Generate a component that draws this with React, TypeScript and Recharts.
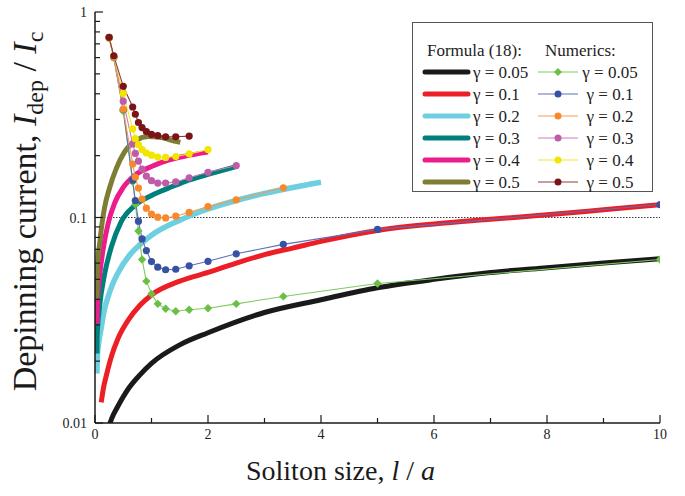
import React from "react";
import { LineChart, Line, XAxis, YAxis, ReferenceLine, Legend } from "recharts";

// ---- Formula (18) curves ----
const fX005 = [0.22, 0.3, 0.4, 0.6, 0.8, 1.0, 1.5, 2.0, 3.0, 4.0, 5.0, 6.0, 7.0, 8.0, 9.0, 10];
const fY005 = [0.0091, 0.0106, 0.012, 0.0148, 0.0172, 0.0195, 0.024, 0.0275, 0.0345, 0.0398, 0.0455, 0.05, 0.054, 0.057, 0.06, 0.063];
const fX01 = [0.11, 0.15, 0.2, 0.3, 0.4, 0.6, 0.8, 1.0, 1.5, 2.0, 2.5, 3.0, 3.5, 4.0, 5.0, 6.0, 7.0, 8.0, 9.0, 10];
const fY01 = [0.0126, 0.0148, 0.017, 0.0215, 0.0255, 0.032, 0.0375, 0.042, 0.049, 0.054, 0.06, 0.066, 0.071, 0.0765, 0.0865, 0.093, 0.098, 0.103, 0.109, 0.1155];
const fX02 = [0.035, 0.04, 0.07, 0.11, 0.16, 0.23, 0.32, 0.41, 0.6, 0.8, 1.0, 1.5, 2.0, 2.5, 3.0, 3.5, 4.0];
const fY02 = [0.0174, 0.0209, 0.025, 0.029, 0.035, 0.041, 0.048, 0.054, 0.065, 0.074, 0.082, 0.097, 0.11, 0.121, 0.131, 0.14, 0.1485];
const fX03 = [0.035, 0.037, 0.08, 0.17, 0.29, 0.46, 0.7, 1.0, 1.3, 1.6, 2.0, 2.5];
const fY03 = [0.0218, 0.0262, 0.0366, 0.053, 0.072, 0.095, 0.114, 0.128, 0.139, 0.15, 0.162, 0.177];
const fX04 = [0.035, 0.038, 0.08, 0.14, 0.23, 0.35, 0.5, 0.7, 1.0, 1.3, 1.6, 2.0];
const fY04 = [0.0304, 0.0366, 0.0513, 0.069, 0.093, 0.118, 0.14, 0.16, 0.177, 0.19, 0.199, 0.208];
const fX05 = [0.035, 0.04, 0.05, 0.082, 0.123, 0.17, 0.26, 0.376, 0.52, 0.735, 0.94, 1.15, 1.32, 1.51];
const fY05 = [0.04, 0.055, 0.062, 0.0745, 0.093, 0.112, 0.14, 0.173, 0.208, 0.238, 0.248, 0.246, 0.239, 0.232];

// ---- Numerics (points at 1/a for a = 4, 3, 2, 1.5 ... 0.1) ----
const numX = [0.25, 0.333, 0.5, 0.667, 0.714, 0.769, 0.833, 0.909, 1.0, 1.111, 1.25, 1.429, 1.667, 2.0, 2.5, 3.333, 5, 10];
const nY005 = [0.75, 0.6, 0.33, 0.149, 0.116, 0.086, 0.0625, 0.049, 0.0425, 0.038, 0.036, 0.035, 0.0356, 0.0362, 0.038, 0.0413, 0.0477, 0.0625];
const nY01 = [0.75, 0.6, 0.335, 0.152, 0.121, 0.096, 0.0787, 0.069, 0.061, 0.0573, 0.0557, 0.056, 0.0582, 0.0612, 0.0666, 0.074, 0.0875, 0.1156];
const nY02 = [0.75, 0.6, 0.336, 0.182, 0.157, 0.139, 0.123, 0.111, 0.104, 0.1004, 0.0995, 0.1015, 0.106, 0.113, 0.122, 0.1395];
const nY03 = [0.75, 0.605, 0.368, 0.228, 0.205, 0.188, 0.172, 0.159, 0.151, 0.147, 0.147, 0.149, 0.156, 0.166, 0.179];
const nY04 = [0.75, 0.607, 0.402, 0.27, 0.242, 0.226, 0.214, 0.206, 0.201, 0.197, 0.196, 0.198, 0.204, 0.214];
const nY05 = [0.753, 0.612, 0.435, 0.345, 0.318, 0.29, 0.274, 0.262, 0.254, 0.25, 0.247, 0.247, 0.249];

const gammaLabels = ["0.05", "0.1", "0.2", "0.3", "0.4", "0.5"];
const formulaColors = ["#1a1a1a", "#ec1f27", "#6dcfe0", "#00807b", "#ec1c8c", "#7e7d34"];
const numericColors = ["#6abf45", "#3752a3", "#f7892c", "#bf5ca9", "#f2e600", "#7a1416"];
const numericLineColors = ["#7fcb5c", "#5a70b8", "#f89a4c", "#cc7cbb", "#f2e830", "#8e3a3c"];

const xTicks = [0, 1, 2, 3, 4, 5, 6, 7, 8, 9, 10];
const yTicks = [
  0.01, 0.02, 0.03, 0.04, 0.05, 0.06, 0.07, 0.08, 0.09,
  0.1, 0.2, 0.3, 0.4, 0.5, 0.6, 0.7, 0.8, 0.9, 1,
];
const yMajor = [0.01, 0.1, 1];

type Pt = { x: number; y: number };
const zip = (xs: number[], ys: number[]): Pt[] => ys.map((y, i) => ({ x: xs[i], y }));

const formulaData = [
  zip(fX005, fY005), zip(fX01, fY01), zip(fX02, fY02),
  zip(fX03, fY03), zip(fX04, fY04), zip(fX05, fY05),
];
const numericData = [nY005, nY01, nY02, nY03, nY04, nY05].map((ys) => zip(numX, ys));

const FONT = '"Liberation Serif", "Times New Roman", serif';
const AXIS = "#1a1a1a";
const serif = { fontFamily: FONT };
const isMajorY = (v: number) => yMajor.some((m) => Math.abs(m - v) < 1e-9);

function BottomTick(p: any) {
  const { x, y, payload } = p;
  const major = payload.value % 2 === 0;
  return (
    <g>
      <line x1={x} x2={x} y1={y} y2={y - (major ? 8 : 5)} stroke={AXIS} strokeWidth={1.2} />
      {major && (
        <text x={x} y={y + 16} textAnchor="middle" style={serif} fontSize={14} fill="#222">
          {payload.value}
        </text>
      )}
    </g>
  );
}

function TopTick(p: any) {
  const { x, y, payload } = p;
  const major = payload.value % 2 === 0;
  return <line x1={x} x2={x} y1={y} y2={y + (major ? 8 : 4)} stroke={AXIS} strokeWidth={1.2} />;
}

function LeftTick(p: any) {
  const { x, y, payload } = p;
  const major = isMajorY(payload.value);
  return (
    <g>
      <line x1={x} x2={x + (major ? 8 : 5)} y1={y} y2={y} stroke={AXIS} strokeWidth={1.2} />
      {major && (
        <text x={x - 8} y={y + 5} textAnchor="end" style={serif} fontSize={14} fill="#222">
          {payload.value}
        </text>
      )}
    </g>
  );
}

function RightTick(p: any) {
  const { x, y, payload } = p;
  const major = isMajorY(payload.value);
  return <line x1={x} x2={x - (major ? 8 : 5)} y1={y} y2={y} stroke={AXIS} strokeWidth={1.2} />;
}

function YTitle(p: any) {
  const vb = p.viewBox || { x: 0, y: 12, width: 95, height: 411 };
  const cx = vb.x + 36;
  const cy = vb.y + vb.height / 2 - 6;
  return (
    <text
      x={cx}
      y={cy}
      transform={`rotate(-90, ${cx}, ${cy})`}
      textAnchor="middle"
      style={serif}
      fontSize={34}
      fill="#1a1a1a"
    >
      <tspan>Depinning current, </tspan>
      <tspan fontStyle="italic">I</tspan>
      <tspan fontSize={24} dy={7}>dep</tspan>
      <tspan dy={-7}> / </tspan>
      <tspan fontStyle="italic">I</tspan>
      <tspan fontSize={24} dy={7}>c</tspan>
    </text>
  );
}

function XTitle(p: any) {
  const vb = p.viewBox || { x: 95, y: 423, width: 565, height: 73 };
  return (
    <text
      x={vb.x + vb.width / 2 - 37}
      y={vb.y + 57}
      textAnchor="middle"
      style={serif}
      fontSize={28}
      fill="#1a1a1a"
    >
      <tspan>Soliton size, </tspan>
      <tspan fontStyle="italic">l</tspan>
      <tspan> / </tspan>
      <tspan fontStyle="italic">a</tspan>
    </text>
  );
}

function diamondDot(color: string, r: number) {
  return (p: any) => {
    const { cx, cy, index } = p;
    if (cx == null || cy == null) return <g key={`dd${index}`} />;
    return (
      <path
        key={`dd${index}`}
        d={`M${cx},${cy - r}L${cx + r},${cy}L${cx},${cy + r}L${cx - r},${cy}Z`}
        fill={color}
      />
    );
  };
}

function LegendBox() {
  const rowY = (i: number) => 50 + i * 22;
  return (
    <svg width={242} height={171} style={{ display: "block", fontFamily: FONT }}>
      <rect x={0.5} y={0.5} width={240} height={169} fill="#fff" stroke="#555" strokeWidth={1} />
      <text x={15} y={34} style={serif} fontSize={17} fill="#222">Formula (18):</text>
      <text x={133} y={34} style={serif} fontSize={17} fill="#222">Numerics:</text>
      {gammaLabels.map((g, i) => (
        <g key={g}>
          <line x1={13} x2={56} y1={rowY(i)} y2={rowY(i)} stroke={formulaColors[i]} strokeWidth={5} strokeLinecap="round" />
          <text x={61} y={rowY(i) + 6} style={serif} fontSize={17} fill="#222">{`γ = ${g}`}</text>
          <line x1={126} x2={166} y1={rowY(i)} y2={rowY(i)} stroke={numericLineColors[i]} strokeWidth={1.2} />
          {i === 0 ? (
            <path d={`M146,${rowY(i) - 4}L150,${rowY(i)}L146,${rowY(i) + 4}L142,${rowY(i)}Z`} fill={numericColors[i]} />
          ) : (
            <circle cx={146} cy={rowY(i)} r={3.5} fill={numericColors[i]} />
          )}
          <text x={198} y={rowY(i) + 6} textAnchor="middle" style={serif} fontSize={17} fill="#222">{`γ = ${g}`}</text>
        </g>
      ))}
    </svg>
  );
}

export default function App() {
  return (
    <div style={{ position: "absolute", left: 0, top: 0, background: "#fff" }}>
      <LineChart width={685} height={496} margin={{ top: 12, right: 25, bottom: 0, left: 0 }}>
        <XAxis
          xAxisId="b"
          type="number"
          dataKey="x"
          domain={[0, 10]}
          ticks={xTicks}
          interval={0}
          height={73}
          tickSize={0}
          tickMargin={0}
          tickLine={false}
          axisLine={{ stroke: AXIS, strokeWidth: 1.5 }}
          tick={(p: any) => <BottomTick {...p} />}
          label={{ content: (p: any) => <XTitle {...p} /> }}
          allowDataOverflow
        />
        <XAxis
          xAxisId="t"
          orientation="top"
          type="number"
          dataKey="x"
          domain={[0, 10]}
          ticks={xTicks}
          interval={0}
          height={0}
          tickSize={0}
          tickMargin={0}
          tickLine={false}
          axisLine={{ stroke: AXIS, strokeWidth: 1.5 }}
          tick={(p: any) => <TopTick {...p} />}
          allowDataOverflow
        />
        <YAxis
          yAxisId="l"
          scale="log"
          type="number"
          domain={[0.01, 1]}
          ticks={yTicks}
          interval={0}
          width={95}
          tickSize={0}
          tickMargin={0}
          tickLine={false}
          axisLine={{ stroke: AXIS, strokeWidth: 1.5 }}
          tick={(p: any) => <LeftTick {...p} />}
          label={{ content: (p: any) => <YTitle {...p} /> }}
          allowDataOverflow
        />
        <YAxis
          yAxisId="r"
          orientation="right"
          scale="log"
          type="number"
          domain={[0.01, 1]}
          ticks={yTicks}
          interval={0}
          width={0}
          tickSize={0}
          tickMargin={0}
          tickLine={false}
          axisLine={{ stroke: AXIS, strokeWidth: 1.5 }}
          tick={(p: any) => <RightTick {...p} />}
          allowDataOverflow
        />
        <ReferenceLine
          xAxisId="b"
          yAxisId="l"
          y={0.1}
          stroke="#222"
          strokeWidth={0.9}
          strokeDasharray="1.5 1.5"
        />
        {formulaData.map((d, i) => (
          <Line
            key={`f${i}`}
            xAxisId="b"
            yAxisId="l"
            data={d}
            dataKey="y"
            type="monotone"
            stroke={formulaColors[i]}
            strokeWidth={i === 2 ? 5.5 : 5}
            dot={false}
            activeDot={false}
            isAnimationActive={false}
          />
        ))}
        {numericData.map((d, i) => (
          <Line
            key={`n${i}`}
            xAxisId="b"
            yAxisId="l"
            data={d}
            dataKey="y"
            type="linear"
            stroke={numericLineColors[i]}
            strokeWidth={1.1}
            dot={i === 0 ? diamondDot(numericColors[0], 4.2) : { r: 3.6, fill: numericColors[i], stroke: "none" }}
            activeDot={false}
            isAnimationActive={false}
          />
        ))}
        <Legend
          layout="vertical"
          align="center"
          verticalAlign="middle"
          wrapperStyle={{ left: 412, top: 22, width: 242, height: 171 }}
          content={() => <LegendBox />}
        />
      </LineChart>
    </div>
  );
}
